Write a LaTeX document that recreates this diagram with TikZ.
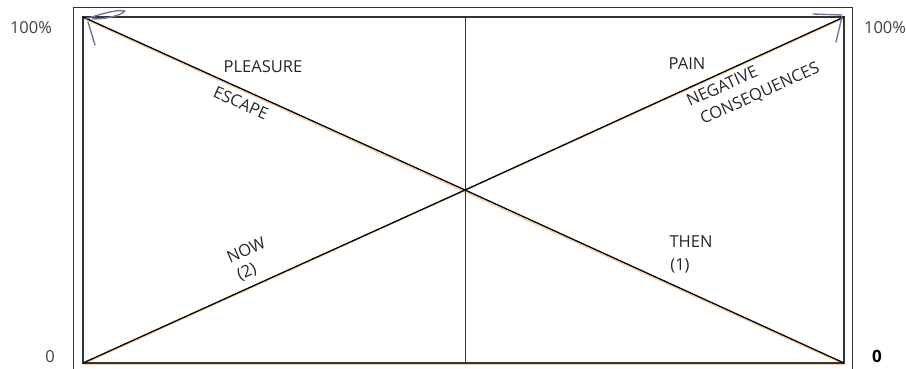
\documentclass[tikz,border=0pt]{standalone}
\usepackage{fontspec}
\setmainfont{Open Sans}
\begin{document}
\begin{tikzpicture}[x=1pt,y=-1pt,
  frame/.style={draw=black!80,line width=1.1pt},
  diag/.style={draw=black,line width=1.3pt},
  halo/.style={draw=orange!40,line width=1.2pt},
  lbl/.style={font=\fontsize{16.5}{18}\selectfont,text=black!85,inner sep=0pt},
  axis/.style={font=\fontsize{16.5}{18}\selectfont,text=black!75,inner sep=0pt},
  pen/.style={draw={rgb,255:red,110;green,120;blue,165},line width=1.4pt,line cap=round,line join=round}]
\useasboundingbox (0,0) rectangle (906,368);
% outer frame
\coordinate (oBL) at (73,370);
\coordinate (oTL) at (73,7);
\coordinate (oTR) at (852,7);
\coordinate (oBR) at (852,370);
\draw[frame,line width=0.9pt] (oBL) -- (oTL) -- (oTR) -- (oBR);
% inner rectangle
\coordinate (TL) at (83,17);
\coordinate (TR) at (844,17);
\coordinate (BL) at (83,363);
\coordinate (BR) at (844,363);
\coordinate (TM) at (465,17);
\coordinate (BM) at (465,363);
\coordinate (C) at (465,190);
\draw[halo] ([yshift=-1.2pt]BL) -- ([yshift=-1.2pt]BR);
\draw[halo] ([yshift=-1.3pt]TL) -- ([yshift=-1.3pt]BR);
\draw[halo] ([yshift=-1.3pt]BL) -- ([yshift=-1.3pt]TR);
\draw[frame] (TL) rectangle (BR);
\draw[frame,line width=0.9pt] (TM) -- (BM);
\draw[diag] (TL) -- (C) -- (BR);
\draw[diag] (BL) -- (C) -- (TR);
% hand-drawn pen marks
\draw[pen] (88,22) -- (95,45);
\draw[pen] (86,19) .. controls (100,14) and (118,9) .. (125,11) .. controls (120,16) and (106,19) .. (92,19);
\draw[pen] (813,14) -- (842,15);
\draw[pen] (842,17) -- (836,42);
% axis labels
\node[axis] (l100) at (31,28) {100\%};
\node[axis] (r100) at (885,28) {100\%};
\node[axis] (l0) at (50,357) {0};
\node[axis,text=black,font=\fontsize{17}{19}\selectfont\bfseries] (r0) at (877,356) {0};
% texts
\node[lbl] (pleasure) at (263,67) {PLEASURE};
\node[lbl,rotate=-24.4] (escape) at (241,103) {ESCAPE};
\node[lbl] (pain) at (687,64) {PAIN};
\node[lbl,rotate=24.4] (negative) at (722,86) {NEGATIVE};
\node[lbl,rotate=24.4] (conseq) at (760,94) {CONSEQUENCES};
\node[lbl,rotate=24.4] (now) at (246,250) {NOW};
\node[lbl,rotate=24.4] (two) at (247,272) {(2)};
\node[lbl] (then) at (691,242) {THEN};
\node[lbl] (one) at (680,266) {(1)};
\end{tikzpicture}
\end{document}
